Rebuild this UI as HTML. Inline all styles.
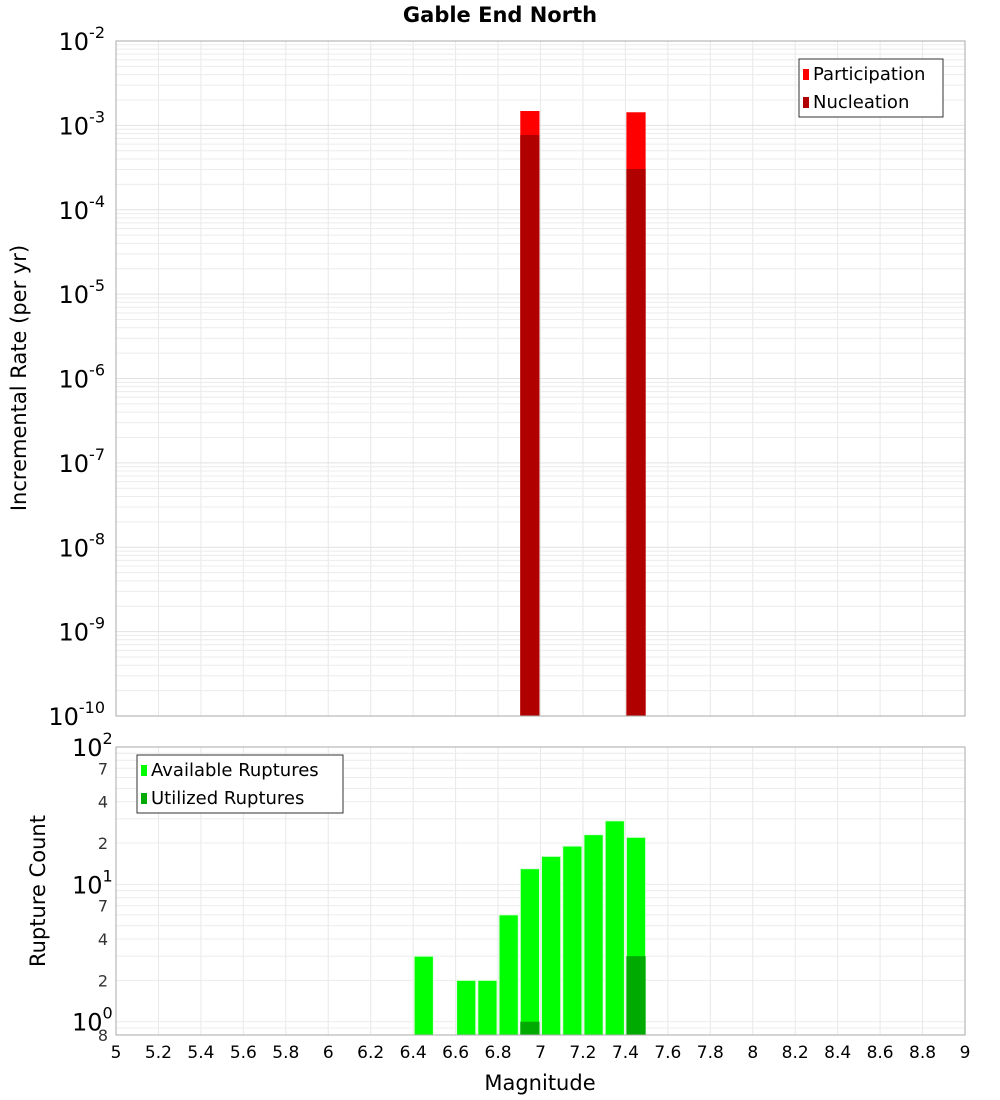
<!DOCTYPE html>
<html><head><meta charset="utf-8"><style>
body{margin:0;background:#fff}
svg{display:block;font-family:"DejaVu Sans","Liberation Sans",sans-serif}
</style></head><body>
<svg id="c" width="1000" height="1100" xmlns="http://www.w3.org/2000/svg">
<text x="500" y="22" text-anchor="middle" font-size="21" font-weight="bold">Gable End North</text>
<g id="g"></g>
</svg>
<script>
const bins=[6.45,6.55,6.65,6.75,6.85,6.95,7.05,7.15,7.25,7.35,7.45];
const available=[3,0,2,2,6,13,16,19,23,29,22];
const utilized=[0,0,0,0,0,1,0,0,0,0,3];
const rateBins=[6.95,7.45];
const participation=[1.48e-3,1.43e-3];
const nucleation=[7.7e-4,3.04e-4];
const xTicks=["5","5.2","5.4","5.6","5.8","6","6.2","6.4","6.6","6.8","7","7.2","7.4","7.6","7.8","8","8.2","8.4","8.6","8.8","9"];

const NS="http://www.w3.org/2000/svg";
const g=document.getElementById('g');
function el(t,a,txt){const e=document.createElementNS(NS,t);for(const k in a)e.setAttribute(k,a[k]);if(txt!==undefined)e.textContent=txt;g.appendChild(e);return e;}
const X0=116,X1=965;
const x=v=>X0+(v-5)/4*(X1-X0);
const T0=41,T1=716;
const yT=v=>T0+(-2-Math.log10(v))/8*(T1-T0);
const B0=747,B1=1035,bLo=Math.log10(0.8);
const yB=v=>B0+(2-Math.log10(v))/(2-bLo)*(B1-B0);

// grids
function vgrid(y0,y1){for(let i=0;i<=20;i++){const l=el('line',{x1:x(5+i*0.2),x2:x(5+i*0.2),y1:y0,y2:y1,stroke:'#e8e8e8'});}}
vgrid(T0,T1);vgrid(B0,B1);
for(let d=-10;d<-2;d++)for(let m=1;m<10;m++){const v=m*Math.pow(10,d);const yy=yT(v);if(yy<T0||yy>T1)continue;
 const l=el('line',{x1:X0,x2:X1,y1:yy,y2:yy,stroke:m==1?'#e2e2e2':'#ececec'});}
for(let d=-1;d<2;d++)for(let m=1;m<10;m++){const v=m*Math.pow(10,d);const yy=yB(v);if(yy<B0||yy>B1)continue;
 const l=el('line',{x1:X0,x2:X1,y1:yy,y2:yy,stroke:'#ececec'});}

// top bars
const bw=x(5.1)-x(5)-2;
rateBins.forEach((b,i)=>{
 const p=el('rect',{x:x(b)-bw/2,y:yT(participation[i]),width:bw,height:T1-yT(participation[i]),fill:'#ff0000'});
 
 const n=el('rect',{x:x(b)-bw/2,y:yT(nucleation[i]),width:bw,height:T1-yT(nucleation[i]),fill:'#b00000'});
 
});
// bottom bars
bins.forEach((b,i)=>{
 if(available[i]>0){const r=el('rect',{x:x(b)-bw/2,y:yB(available[i]),width:bw,height:B1-yB(available[i]),fill:'#00ff00',stroke:'#e0ffe0','stroke-width':1});
 }
 if(utilized[i]>0){const r=el('rect',{x:x(b)-bw/2,y:yB(utilized[i]),width:bw,height:B1-yB(utilized[i]),fill:'#00aa00'});
 }
});
// frames
let f=el('rect',{x:X0,y:T0,width:X1-X0,height:T1-T0,fill:'none',stroke:'#aaa'});
f=el('rect',{x:X0,y:B0,width:X1-X0,height:B1-B0,fill:'none',stroke:'#aaa'});

// top y labels
for(let d=-2;d>=-10;d--){const yy=yT(Math.pow(10,d));
 const t=el('text',{x:105,y:yy+9,'text-anchor':'end','font-size':24});
 t.textContent='10';const s=document.createElementNS(NS,'tspan');s.setAttribute('dy','-12');s.setAttribute('font-size','16');s.textContent=String(d);t.appendChild(s);}
// bottom y labels
[[100,'2'],[10,'1'],[1,'0']].forEach(([v,e])=>{const yy=yB(v);
 const t=el('text',{x:72,y:yy+9,'font-size':24});
 t.textContent='10';const s=document.createElementNS(NS,'tspan');s.setAttribute('dy','-12');s.setAttribute('font-size','16');s.textContent=e;t.appendChild(s);});
[[70,'7'],[40,'4'],[20,'2'],[7,'7'],[4,'4'],[2,'2'],[0.8,'8']].forEach(([v,s])=>{
 const t=el('text',{x:108,y:yB(v)+6,'text-anchor':'end','font-size':16,fill:'#333'},s);});
// x labels
xTicks.forEach(s=>{const t=el('text',{x:x(parseFloat(s)),y:1058,'text-anchor':'middle','font-size':17},s);});
let t=el('text',{x:540,y:1090,'text-anchor':'middle','font-size':21},'Magnitude');
t=el('text',{x:0,y:0,'text-anchor':'middle','font-size':21,transform:'translate(26,378) rotate(-90)'},'Incremental Rate (per yr)');
t=el('text',{x:0,y:0,'text-anchor':'middle','font-size':21,transform:'translate(45,891) rotate(-90)'},'Rupture Count');

// legends
function legend(lx,ly,w,items,name){const r=el('rect',{x:lx,y:ly,width:w,height:58,fill:'#fff',stroke:'#333'});
 items.forEach(([c,s],i)=>{const k=el('rect',{x:lx+4,y:ly+10+i*28,width:6,height:11,fill:c});
 const tt=el('text',{x:lx+14,y:ly+21+i*28,'font-size':18},s);});}
legend(799,59,144,[['#ff0000','Participation'],['#b00000','Nucleation']],'top-legend');
legend(137,755,206,[['#00ff00','Available Ruptures'],['#00aa00','Utilized Ruptures']],'bottom-legend');
</script>
</body></html>
